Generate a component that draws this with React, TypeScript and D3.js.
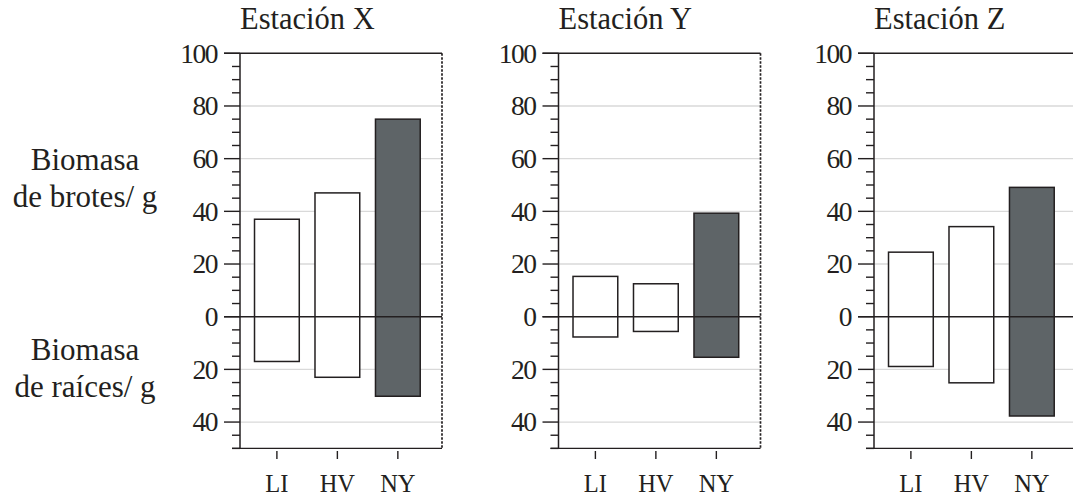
import * as d3 from 'd3';
import React from 'react';

const stations = ['Estación X', 'Estación Y', 'Estación Z'];
const categories = ['LI', 'HV', 'NY'];
// biomasa de brotes (arriba) y de raíces (abajo), en g
const shootValues = [
  [37, 47, 75],
  [15.3, 12.5, 39.3],
  [24.5, 34.2, 49.1],
];
const rootValues = [
  [17, 23, 30.2],
  [7.7, 5.6, 15.4],
  [18.9, 25.1, 37.7],
];
const majorTicks = [-40, -20, 0, 20, 40, 60, 80, 100];
const gridTicks = [-40, -20, 20, 40, 60, 80];
const barFills = ['#ffffff', '#ffffff', '#5e6467'];

const W = 1073;
const H = 497;
const panelX = [240, 558.5, 874];
const panelW = 202;
const font = 'Liberation Serif, Times New Roman, serif';
const ink = '#231f20';

const y = d3.scaleLinear().domain([-50, 100]).range([448.4, 53.3]);
const x = d3
  .scaleBand<string>()
  .domain(categories)
  .range([0, panelW])
  .paddingInner(0.26)
  .paddingOuter(0.3)
  .align(0.4);

const minorTicks = y.ticks(30).filter((t) => t % 20 !== 0);

const Panel = ({ idx }: { idx: number }) => {
  const shoots = shootValues[idx];
  const roots = rootValues[idx];
  return (
    <g transform={`translate(${panelX[idx]},0)`}>
      <text x={0} y={29} fontSize={30.5} style={{ fontFamily: font }} fill={ink}>
        {stations[idx]}
      </text>

      {gridTicks.map((t) => (
        <line key={'g' + t} x1={0} x2={panelW} y1={y(t)} y2={y(t)} stroke="#d9d9d9" strokeWidth={1.3} />
      ))}

      {categories.map((c, i) => (
        <rect
          key={c}
          x={x(c)}
          width={x.bandwidth()}
          y={y(shoots[i])}
          height={y(-roots[i]) - y(shoots[i])}
          fill={barFills[i]}
          stroke={ink}
          strokeWidth={1.5}
        />
      ))}

      {/* borde superior y línea cero */}
      <line x1={-16} x2={panelW} y1={y(100)} y2={y(100)} stroke={ink} strokeWidth={1.4} />
      <line x1={-16} x2={panelW} y1={y(0)} y2={y(0)} stroke={ink} strokeWidth={1.4} />
      {/* eje inferior */}
      <line x1={-8} x2={panelW} y1={y(-50)} y2={y(-50)} stroke={ink} strokeWidth={1.4} />
      {/* borde derecho punteado */}
      <line
        x1={panelW}
        x2={panelW}
        y1={y(100)}
        y2={y(-50)}
        stroke={ink}
        strokeWidth={1.7}
        strokeDasharray="2.5,1.5"
      />

      {/* eje y */}
      <line x1={0} x2={0} y1={y(100)} y2={y(-50)} stroke={ink} strokeWidth={1.5} />
      {majorTicks.map((t) => (
        <g key={'m' + t}>
          <line x1={-16} x2={0} y1={y(t)} y2={y(t)} stroke={ink} strokeWidth={1.4} />
          <text
            x={-23}
            y={y(t)}
            dy="0.34em"
            textAnchor="end"
            fontSize={27.5}
            letterSpacing={-1.5}
            style={{ fontFamily: font }}
            fill={ink}
          >
            {Math.abs(t)}
          </text>
        </g>
      ))}
      {minorTicks.map((t) => (
        <line key={'n' + t} x1={-8} x2={0} y1={y(t)} y2={y(t)} stroke={ink} strokeWidth={1.4} />
      ))}

      {/* eje x */}
      {categories.map((c) => {
        const cx = (x(c) ?? 0) + x.bandwidth() / 2;
        return (
          <g key={'x' + c}>
            <line x1={cx} x2={cx} y1={451} y2={459} stroke={ink} strokeWidth={1.4} />
            <text x={cx} y={492} textAnchor="middle" fontSize={24.5} style={{ fontFamily: font }} fill={ink}>
              {c}
            </text>
          </g>
        );
      })}
    </g>
  );
};

const App = () => {
  return (
    <svg
      width={W}
      height={H}
      style={{ position: 'absolute', left: 0, top: 0, background: '#fff' }}
    >
      <g style={{ fontFamily: font }} fill={ink} textAnchor="middle" fontSize={31}>
        <text x={85} y={170}>Biomasa</text>
        <text x={85} y={207}>de brotes/ g</text>
        <text x={85} y={360}>Biomasa</text>
        <text x={85} y={397}>de raíces/ g</text>
      </g>
      {stations.map((s, i) => (
        <Panel key={s} idx={i} />
      ))}
    </svg>
  );
};

export default App;
